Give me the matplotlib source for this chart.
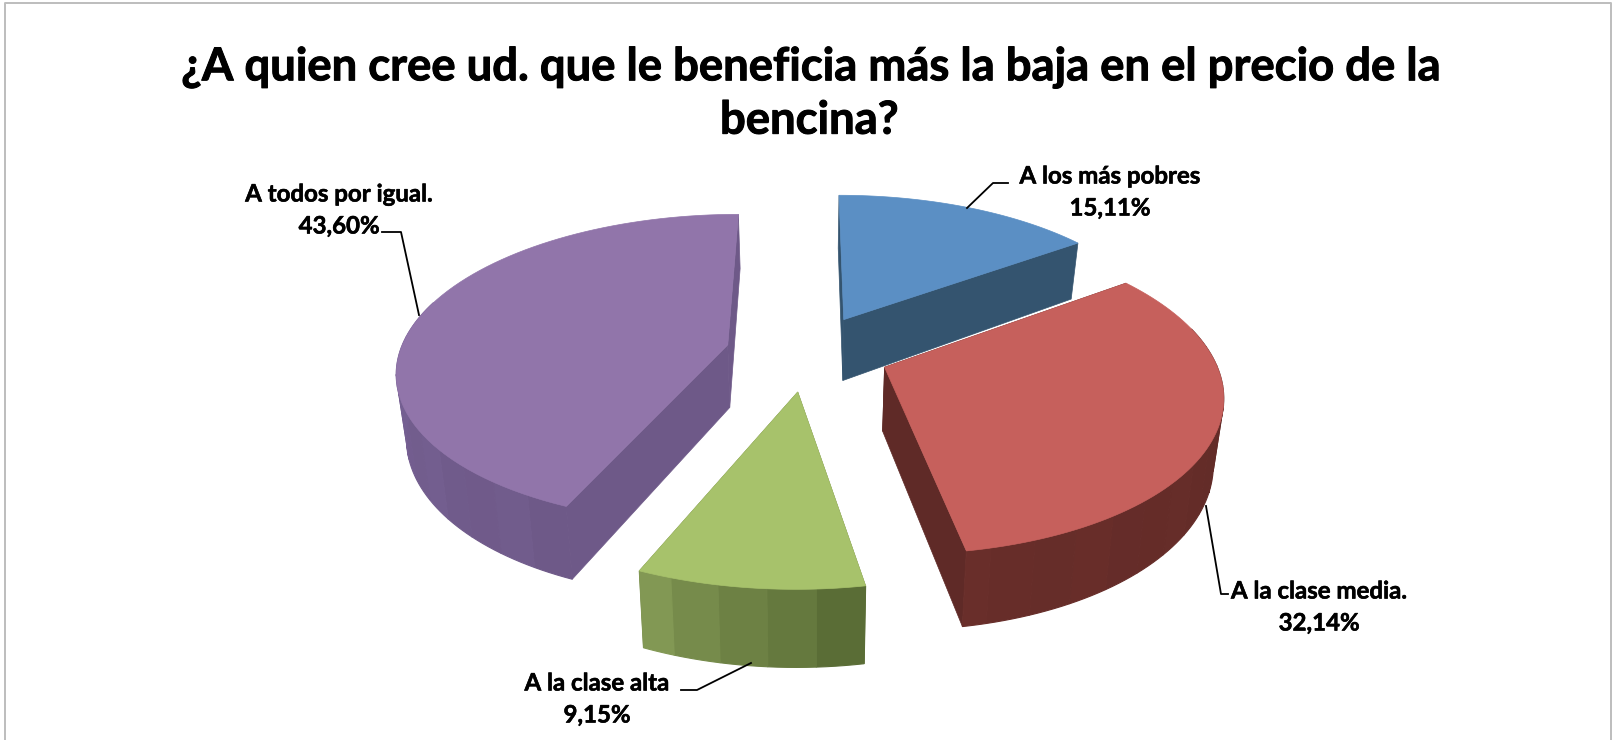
import numpy as np
import matplotlib

matplotlib.use("Agg")
import matplotlib.pyplot as plt
import matplotlib.patheffects as pe

# chart data
categories = ["A los más pobres", "A la clase media.", "A la clase alta", "A todos por igual."]
values = [15.11, 32.14, 9.15, 43.60]
value_labels = ["15,11%", "32,14%", "9,15%", "43,60%"]
title_text = "¿A quien cree ud. que le beneficia más la baja en el precio de la\nbencina?"

top_colors = ["#5b8fc4", "#c6605c", "#a7c26b", "#9175aa"]
side_colors = ["#34546f", "#5f2a27", "#6c7d42", "#6e5988"]
wall_from = ["#34546f", "#5f2a27", "#5a6d36", "#6e5988"]
wall_to = ["#34546f", "#672d29", "#7f9552", "#7f69a0"]

# projection of the exploded pie, in pixels
CX, CY = 807.5, 352.5
RX, RY = 328.0, 153.0
PERSP = 0.155
EXPLODE = 0.25
HEIGHT = 63.0
SHRINK = 0.975

# painter order: back to front
draw_order = [3, 0, 2, 1]

# label centres and leader lines (px)
label_pos = [(1110, 176), (1319, 591), (597, 683), (339, 194)]
line_gap = 32
leaders = [
    [(967, 208), (993, 183), (1008, 183)],
    [(1206, 506), (1221, 594), (1228, 594)],
    [(751, 663), (697, 690), (681, 690)],
    [(419, 315), (401, 232), (382, 232)],
]


def project(x, y, low=False):
    w = 1 + PERSP * y
    sx = CX + RX * x / w
    sy = CY - RY * y / w
    if low:
        sx = CX + (sx - CX) * SHRINK
        sy = sy + HEIGHT / w
    return np.column_stack([sx, sy])


def rim(t0, t1, ox, oy, n=80):
    t = np.radians(np.linspace(t0, t1, n))
    return ox + np.sin(t), oy + np.cos(t)


def mix(c0, c1, f):
    a = np.array(matplotlib.colors.to_rgb(c0))
    b = np.array(matplotlib.colors.to_rgb(c1))
    return tuple(a + (b - a) * f)


def draw_slice(ax, i, t0, t1):
    mid = np.radians((t0 + t1) / 2)
    ox, oy = EXPLODE * np.sin(mid), EXPLODE * np.cos(mid)
    apex_hi = project(np.array([ox]), np.array([oy]))
    apex_lo = project(np.array([ox]), np.array([oy]), low=True)

    # flat cut faces
    for t in (t0, t1):
        x, y = rim(t, t, ox, oy, n=1)
        quad = np.vstack([apex_hi, project(x, y), project(x, y, low=True), apex_lo])
        ax.fill(quad[:, 0], quad[:, 1], color=side_colors[i], lw=0.5, zorder=2)

    # outer wall, drawn in narrow bands like the office renderer does
    edges = np.arange(t0, t1 + 7, 7.0)
    edges = edges[edges < t1]
    edges = np.append(edges, t1)
    for j in range(len(edges) - 1):
        # the far side of the rim faces away from the viewer
        if np.cos(np.radians((edges[j] + edges[j + 1]) / 2)) > 0.25:
            continue
        x, y = rim(edges[j], edges[j + 1], ox, oy, n=6)
        poly = np.vstack([project(x, y), project(x, y, low=True)[::-1]])
        f = j / max(len(edges) - 2, 1)
        col = mix(wall_from[i], wall_to[i], f)
        if j % 3 == 1:
            col = tuple(min(c * 1.02, 1) for c in col)
        ax.fill(poly[:, 0], poly[:, 1], color=col, ec=col, lw=0.8, zorder=2)

    # top face
    x, y = rim(t0, t1, ox, oy)
    top = np.vstack([apex_hi, project(x, y)])
    ax.fill(top[:, 0], top[:, 1], color=top_colors[i], lw=0.5, zorder=2)


fig = plt.figure(figsize=(16.12, 7.4), dpi=100)
ax = fig.add_axes([0, 0, 1, 1])
ax.set_xlim(0, 1612)
ax.set_ylim(740, 0)
ax.axis("off")

# outer chart frame, its bottom edge is cut off in the source
ax.plot([5, 5, 1611, 1611], [740, 3, 3, 740], color="#bdbdbd", lw=1.4, zorder=1)

bounds = np.concatenate([[0], np.cumsum(values)]) / np.sum(values) * 360
for i in draw_order:
    draw_slice(ax, i, bounds[i], bounds[i + 1])

for pts in leaders:
    xs, ys = zip(*pts)
    ax.plot(xs, ys, color="black", lw=1.3, zorder=3)

thick = [pe.withStroke(linewidth=0.4, foreground="black")]
for (x, y), name, val in zip(label_pos, categories, value_labels):
    ax.text(x, y, name, ha="center", va="center", family="Lato", weight="bold",
            fontsize=17.3, color="black", path_effects=thick)
    ax.text(x, y + line_gap, val, ha="center", va="center", family="Lato", weight="bold",
            fontsize=17.3, color="black", path_effects=thick)

ax.text(809, 94, title_text, ha="center", va="center", multialignment="center",
        family="Lato", weight="bold", fontsize=32.7, color="black", linespacing=1.32,
        path_effects=[pe.withStroke(linewidth=0.7, foreground="black")])

fig.savefig("out.png", dpi=100)
plt.close(fig)
